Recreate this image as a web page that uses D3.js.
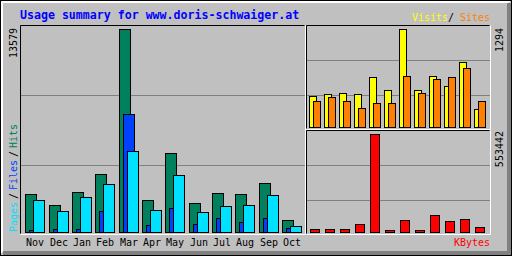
<!DOCTYPE html>
<html>
<head>
<meta charset="utf-8">
<script src="https://d3js.org/d3.v7.min.js"></script>
<style>
body{margin:0;background:#fff}
svg{display:block}
text{font-family:"DejaVu Sans Mono",monospace;font-size:10px}
</style>
</head>
<body>
<svg width="512" height="256"></svg>
<script>
// monthly usage, Nov .. Oct
var months = ["Nov","Dec","Jan","Feb","Mar","Apr","May","Jun","Jul","Aug","Sep","Oct"];
var hits   = [2540,1810,2680,3880,13579,2140,5280,1940,2610,2540,3280,800];
var files  = [134,200,200,1400,7890,470,1600,535,936,670,936,268];
var pages  = [2140,1400,2340,3210,5420,1470,3810,1340,1740,1810,2480,400];
var visits = [409,436,449,436,660,489,1294,489,673,541,858,238];
var sites  = [343,396,343,251,317,317,673,449,634,660,779,343];
var kbytes = [16900,16900,16900,45200,553442,11300,67800,11300,96000,62100,73400,28200];

var title = "Usage summary for www.doris-schwaiger.at";

var svg = d3.select("svg");

// background + 3d frame
svg.append("rect").attr("width",512).attr("height",256).attr("fill","#c0c0c0");
svg.append("rect").attr("x",3).attr("y",251).attr("width",508).attr("height",4).attr("fill","#808080");
svg.append("rect").attr("x",507).attr("y",3).attr("width",4).attr("height",252).attr("fill","#808080");
svg.append("path").attr("d","M1.5,253 V1.5 H510 M2.5,252 V2.5 H509")
  .attr("stroke","#fff").attr("fill","none");
svg.append("rect").attr("x",0.5).attr("y",0.5).attr("width",511).attr("height",255)
  .attr("fill","none").attr("stroke","#000");

// scales
var xMain = d3.scaleLinear().domain([0,12]).range([25,305]);
var xSide = d3.scaleLinear().domain([0,12]).range([309,489]);
var yMain = d3.scaleLinear().domain([0,d3.max(hits)]).range([232,29]);
var yVis  = d3.scaleLinear().domain([0,d3.max(visits)]).range([127,29]);
var yKb   = d3.scaleLinear().domain([0,d3.max(kbytes)]).range([232,134]);

var mx = function(i){ return Math.ceil(xMain(i) - 0.001) };
var sx = function(i){ return Math.round(xSide(i)) };

// panel frames (black top/left, white bottom/right)
function panel(x0,y0,x1,y1){
  svg.append("path").attr("d","M"+(x0+0.5)+","+(y1+0.5)+" V"+(y0+0.5)+" H"+(x1+0.5))
    .attr("stroke","#000").attr("fill","none");
  svg.append("path").attr("d","M"+(x0+0.5)+","+(y1+1.5)+" H"+(x1+1.5)+" V"+(y0+0.5))
    .attr("stroke","#fff").attr("fill","none");
}
panel(20,25,304,233);
panel(306,25,489,128);
panel(306,130,489,233);

// grid lines, thirds of each panel
var grid = [[21,304,95],[21,304,165],[307,489,60],[307,489,95],[307,489,165],[307,489,200]];
svg.selectAll("line.grid").data(grid).enter().append("line")
  .attr("class","grid")
  .attr("x1",function(d){return d[0]}).attr("x2",function(d){return d[1]+1})
  .attr("y1",function(d){return d[2]+0.5}).attr("y2",function(d){return d[2]+0.5})
  .attr("stroke","#808080");

function bars(cls, data, xf, off, w, y, color){
  var base = y(0);
  svg.selectAll("rect."+cls).data(data).enter().append("rect")
    .attr("class",cls)
    .attr("x",function(d,i){ return xf(i)+off+0.5 })
    .attr("y",function(d){ return Math.round(y(d))+0.5 })
    .attr("width",w-1)
    .attr("height",function(d){ return Math.max(base-Math.round(y(d)),1) })
    .attr("fill",color)
    .attr("stroke","#000")
    .attr("shape-rendering","crispEdges");
}

bars("hits",hits,mx,0,12,yMain,"#00805c");
bars("files",files,mx,4,12,yMain,"#0040ff");
bars("pages",pages,mx,8,12,yMain,"#00e0ff");
bars("visits",visits,sx,0,8,yVis,"#ffff00");
bars("sites",sites,sx,4,8,yVis,"#ff8000");
bars("kbytes",kbytes,sx,1,10,yKb,"#ff0000");

// month labels
svg.selectAll("text.month").data(months).enter().append("text")
  .attr("class","month")
  .attr("x",function(d,i){ return mx(i)+10 })
  .attr("y",246)
  .attr("text-anchor","middle")
  .attr("fill","#000")
  .text(function(d){return d});

// title
svg.append("text").attr("x",20).attr("y",19)
  .attr("fill","#0000ff").style("font-size","11.6px").style("font-weight","bold")
  .text(title);

// visits / sites legend
svg.append("text").attr("x",412).attr("y",21).attr("fill","#ffff00").text("Visits");
svg.append("text").attr("x",448).attr("y",21).attr("fill","#000").text("/");
svg.append("text").attr("x",460).attr("y",21).attr("fill","#ff8000").text("Sites");
svg.append("text").attr("x",454).attr("y",246).attr("fill","#ff0000").text("KBytes");

// rotated labels
function up(x,y,anchor,color,s){
  svg.append("text").attr("transform","translate("+x+","+y+") rotate(-90)")
    .attr("text-anchor",anchor).attr("fill",color).text(s);
}
up(16.5,28,"end","#000",d3.max(hits));
up(503,28,"end","#000",d3.max(visits));
up(503,131,"end","#000",d3.max(kbytes));
up(16.5,232,"start","#00e0ff","Pages");
up(16.5,199,"start","#000","/");
up(16.5,190,"start","#0040ff","Files");
up(16.5,157,"start","#000","/");
up(16.5,148,"start","#00805c","Hits");
</script>
</body>
</html>
